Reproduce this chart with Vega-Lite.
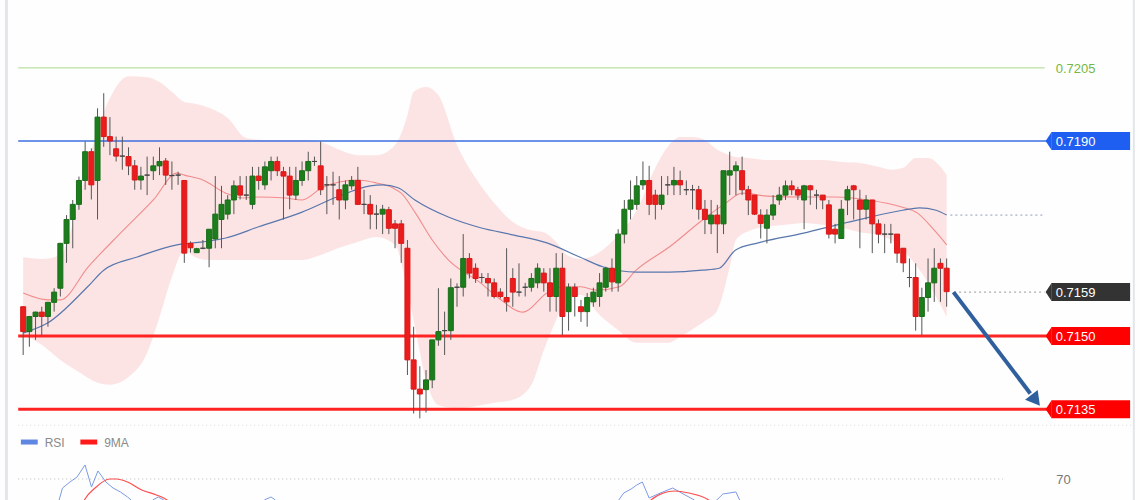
{
"$schema":"https://vega.github.io/schema/vega-lite/v6.json",
"width":1140,"height":500,"autosize":"none","padding":0,
"background":"#fefefe",
"config":{"view":{"stroke":null},"text":{"font":"Liberation Sans"}},
"datasets":{
"candles":[
{"i":0,"o":0.7156,"h":0.71561,"l":0.71461,"c":0.71509},{"i":1,"o":0.71509,"h":0.71541,"l":0.71478,"c":0.7154},{"i":2,"o":0.7154,"h":0.7155,"l":0.71492,"c":0.71549},{"i":3,"o":0.71549,"h":0.7156,"l":0.71502,"c":0.7154},{"i":4,"o":0.7154,"h":0.7157,"l":0.71519,"c":0.71569},
{"i":5,"o":0.71569,"h":0.71598,"l":0.7155,"c":0.7159},{"i":6,"o":0.71598,"h":0.71691,"l":0.71581,"c":0.7169},{"i":7,"o":0.7169,"h":0.71748,"l":0.7165,"c":0.71739},{"i":8,"o":0.71739,"h":0.71779,"l":0.7168,"c":0.7177},{"i":9,"o":0.7177,"h":0.71827,"l":0.71759,"c":0.71819},
{"i":10,"o":0.71819,"h":0.71899,"l":0.718,"c":0.71878},{"i":11,"o":0.71878,"h":0.71885,"l":0.7178,"c":0.7181},{"i":12,"o":0.71819,"h":0.71967,"l":0.71739,"c":0.71949},{"i":13,"o":0.71949,"h":0.71998,"l":0.71888,"c":0.71909},{"i":14,"o":0.71909,"h":0.71949,"l":0.71871,"c":0.719},
{"i":15,"o":0.71884,"h":0.71909,"l":0.71858,"c":0.71869},{"i":16,"o":0.71869,"h":0.71909,"l":0.71841,"c":0.71869},{"i":17,"o":0.71868,"h":0.71887,"l":0.7183,"c":0.71849},{"i":18,"o":0.71849,"h":0.71861,"l":0.718,"c":0.7182},{"i":19,"o":0.7182,"h":0.71847,"l":0.718,"c":0.71828},
{"i":20,"o":0.7183,"h":0.71868,"l":0.71789,"c":0.7183},{"i":21,"o":0.71839,"h":0.71868,"l":0.7182,"c":0.71849},{"i":22,"o":0.71849,"h":0.71887,"l":0.7183,"c":0.71858},{"i":23,"o":0.71859,"h":0.71865,"l":0.7181,"c":0.7183},{"i":24,"o":0.71829,"h":0.71858,"l":0.718,"c":0.71829},
{"i":25,"o":0.7183,"h":0.71837,"l":0.7181,"c":0.7183},{"i":26,"o":0.71819,"h":0.71819,"l":0.7165,"c":0.7167},{"i":27,"o":0.7169,"h":0.71694,"l":0.71671,"c":0.71681},{"i":28,"o":0.71671,"h":0.71681,"l":0.7167,"c":0.71679},{"i":29,"o":0.7168,"h":0.71697,"l":0.71678,"c":0.7168},
{"i":30,"o":0.7168,"h":0.71719,"l":0.71641,"c":0.71719},{"i":31,"o":0.71699,"h":0.71828,"l":0.7168,"c":0.7175},{"i":32,"o":0.71739,"h":0.71808,"l":0.7168,"c":0.7177},{"i":33,"o":0.7175,"h":0.71789,"l":0.71739,"c":0.71779},{"i":34,"o":0.71779,"h":0.71819,"l":0.7175,"c":0.71808},
{"i":35,"o":0.71808,"h":0.71828,"l":0.7178,"c":0.71789},{"i":36,"o":0.71789,"h":0.71828,"l":0.71779,"c":0.71789},{"i":37,"o":0.7177,"h":0.71847,"l":0.7176,"c":0.71828},{"i":38,"o":0.71828,"h":0.71847,"l":0.718,"c":0.71819},{"i":39,"o":0.7181,"h":0.71858,"l":0.718,"c":0.71847},
{"i":40,"o":0.71839,"h":0.71868,"l":0.71819,"c":0.71858},{"i":41,"o":0.71858,"h":0.71868,"l":0.71828,"c":0.71839},{"i":42,"o":0.71837,"h":0.71847,"l":0.71739,"c":0.71828},{"i":43,"o":0.71828,"h":0.71847,"l":0.7176,"c":0.71789},{"i":44,"o":0.71789,"h":0.71847,"l":0.71779,"c":0.71819},
{"i":45,"o":0.71819,"h":0.71858,"l":0.71808,"c":0.71839},{"i":46,"o":0.71839,"h":0.71878,"l":0.71819,"c":0.71858},{"i":47,"o":0.71858,"h":0.71868,"l":0.71849,"c":0.71858},{"i":48,"o":0.71849,"h":0.71899,"l":0.71789,"c":0.718},{"i":49,"o":0.7181,"h":0.71828,"l":0.7175,"c":0.7181},
{"i":50,"o":0.7181,"h":0.71837,"l":0.71769,"c":0.7181},{"i":51,"o":0.718,"h":0.71828,"l":0.71739,"c":0.71779},{"i":52,"o":0.71779,"h":0.71819,"l":0.7176,"c":0.7181},{"i":53,"o":0.71808,"h":0.71828,"l":0.718,"c":0.71819},{"i":54,"o":0.71819,"h":0.71847,"l":0.71769,"c":0.7177},
{"i":55,"o":0.7177,"h":0.718,"l":0.7175,"c":0.7177},{"i":56,"o":0.7177,"h":0.71789,"l":0.71719,"c":0.7175},{"i":57,"o":0.7175,"h":0.71769,"l":0.71719,"c":0.7175},{"i":58,"o":0.7175,"h":0.71769,"l":0.71709,"c":0.7176},{"i":59,"o":0.71759,"h":0.71765,"l":0.71709,"c":0.71721},
{"i":60,"o":0.7173,"h":0.71738,"l":0.7168,"c":0.71721},{"i":61,"o":0.7173,"h":0.71738,"l":0.7165,"c":0.7169},{"i":62,"o":0.7168,"h":0.71697,"l":0.7142,"c":0.71451},{"i":63,"o":0.71451,"h":0.71519,"l":0.71341,"c":0.71391},{"i":64,"o":0.71391,"h":0.71438,"l":0.71331,"c":0.71381},
{"i":65,"o":0.7139,"h":0.7143,"l":0.71343,"c":0.7141},{"i":66,"o":0.7141,"h":0.71492,"l":0.71393,"c":0.71492},{"i":67,"o":0.71492,"h":0.71598,"l":0.7148,"c":0.71509},{"i":68,"o":0.71511,"h":0.7155,"l":0.71461,"c":0.71511},{"i":69,"o":0.71511,"h":0.71618,"l":0.71492,"c":0.71599},
{"i":70,"o":0.716,"h":0.71608,"l":0.7156,"c":0.716},{"i":71,"o":0.716,"h":0.71709,"l":0.71581,"c":0.71659},{"i":72,"o":0.71659,"h":0.7167,"l":0.71618,"c":0.71629},{"i":73,"o":0.71639,"h":0.71649,"l":0.71609,"c":0.71618},{"i":74,"o":0.7162,"h":0.71629,"l":0.71609,"c":0.7162},
{"i":75,"o":0.71618,"h":0.71629,"l":0.71581,"c":0.71609},{"i":76,"o":0.71609,"h":0.71618,"l":0.71577,"c":0.71581},{"i":77,"o":0.7159,"h":0.71598,"l":0.71577,"c":0.71581},{"i":78,"o":0.71579,"h":0.7168,"l":0.7155,"c":0.7157},{"i":79,"o":0.71618,"h":0.71639,"l":0.7156,"c":0.7159},
{"i":80,"o":0.7159,"h":0.71649,"l":0.71581,"c":0.7159},{"i":81,"o":0.716,"h":0.71609,"l":0.71581,"c":0.716},{"i":82,"o":0.716,"h":0.71629,"l":0.71591,"c":0.71618},{"i":83,"o":0.71609,"h":0.71649,"l":0.71598,"c":0.71639},{"i":84,"o":0.71629,"h":0.71639,"l":0.71591,"c":0.71609},
{"i":85,"o":0.71609,"h":0.71639,"l":0.7155,"c":0.71581},{"i":86,"o":0.71581,"h":0.7167,"l":0.7155,"c":0.71639},{"i":87,"o":0.71639,"h":0.7167,"l":0.71502,"c":0.7154},{"i":88,"o":0.7155,"h":0.71608,"l":0.71511,"c":0.716},{"i":89,"o":0.716,"h":0.71608,"l":0.7154,"c":0.71581},
{"i":90,"o":0.7156,"h":0.71574,"l":0.71529,"c":0.7155},{"i":91,"o":0.7155,"h":0.71588,"l":0.71519,"c":0.71579},{"i":92,"o":0.7157,"h":0.71599,"l":0.7156,"c":0.7159},{"i":93,"o":0.71581,"h":0.71629,"l":0.7156,"c":0.71609},{"i":94,"o":0.716,"h":0.71642,"l":0.71591,"c":0.71639},
{"i":95,"o":0.71639,"h":0.71659,"l":0.71591,"c":0.71611},{"i":96,"o":0.71609,"h":0.71719,"l":0.71591,"c":0.71709},{"i":97,"o":0.71709,"h":0.71779,"l":0.7169,"c":0.7176},{"i":98,"o":0.7176,"h":0.71819,"l":0.71739,"c":0.71779},{"i":99,"o":0.7177,"h":0.71828,"l":0.71759,"c":0.71808},
{"i":100,"o":0.7181,"h":0.71858,"l":0.718,"c":0.71819},{"i":101,"o":0.71819,"h":0.71849,"l":0.71748,"c":0.7177},{"i":102,"o":0.71789,"h":0.718,"l":0.71739,"c":0.7177},{"i":103,"o":0.7177,"h":0.71828,"l":0.71759,"c":0.71789},{"i":104,"o":0.7181,"h":0.71828,"l":0.71789,"c":0.7181},
{"i":105,"o":0.7181,"h":0.71847,"l":0.71789,"c":0.71819},{"i":106,"o":0.71819,"h":0.71839,"l":0.71789,"c":0.7181},{"i":107,"o":0.718,"h":0.71819,"l":0.71789,"c":0.718},{"i":108,"o":0.718,"h":0.7181,"l":0.7176,"c":0.718},{"i":109,"o":0.718,"h":0.71808,"l":0.71739,"c":0.7176},
{"i":110,"o":0.7176,"h":0.71779,"l":0.71709,"c":0.71739},{"i":111,"o":0.7173,"h":0.71779,"l":0.71709,"c":0.71748},{"i":112,"o":0.71748,"h":0.71769,"l":0.7167,"c":0.7173},{"i":113,"o":0.7173,"h":0.71839,"l":0.71709,"c":0.71839},{"i":114,"o":0.7183,"h":0.71878,"l":0.71789,"c":0.71839},
{"i":115,"o":0.71839,"h":0.71858,"l":0.71789,"c":0.71849},{"i":116,"o":0.71839,"h":0.71868,"l":0.71789,"c":0.718},{"i":117,"o":0.718,"h":0.71808,"l":0.71748,"c":0.71779},{"i":118,"o":0.71789,"h":0.71789,"l":0.71748,"c":0.7175},{"i":119,"o":0.71748,"h":0.7176,"l":0.717,"c":0.71731},
{"i":120,"o":0.71721,"h":0.7176,"l":0.7169,"c":0.71748},{"i":121,"o":0.71748,"h":0.71789,"l":0.71738,"c":0.71769},{"i":122,"o":0.71779,"h":0.71806,"l":0.71769,"c":0.71789},{"i":123,"o":0.71789,"h":0.71819,"l":0.71779,"c":0.71808},{"i":124,"o":0.71808,"h":0.71819,"l":0.71789,"c":0.718},
{"i":125,"o":0.718,"h":0.71806,"l":0.71779,"c":0.71789},{"i":126,"o":0.71779,"h":0.7181,"l":0.71719,"c":0.71808},{"i":127,"o":0.71808,"h":0.7181,"l":0.71769,"c":0.718},{"i":128,"o":0.71789,"h":0.718,"l":0.7176,"c":0.71789},{"i":129,"o":0.71789,"h":0.71789,"l":0.7176,"c":0.71779},
{"i":130,"o":0.71769,"h":0.71779,"l":0.717,"c":0.71709},{"i":131,"o":0.71719,"h":0.7173,"l":0.7169,"c":0.71709},{"i":132,"o":0.717,"h":0.71779,"l":0.717,"c":0.7176},{"i":133,"o":0.71779,"h":0.71808,"l":0.71748,"c":0.718},{"i":134,"o":0.71808,"h":0.7181,"l":0.71739,"c":0.718},
{"i":135,"o":0.71779,"h":0.718,"l":0.7168,"c":0.7176},{"i":136,"o":0.7176,"h":0.71789,"l":0.71739,"c":0.71779},{"i":137,"o":0.71779,"h":0.71779,"l":0.7167,"c":0.7173},{"i":138,"o":0.7173,"h":0.71739,"l":0.7169,"c":0.71709},{"i":139,"o":0.71709,"h":0.7173,"l":0.7167,"c":0.71709},
{"i":140,"o":0.71709,"h":0.7173,"l":0.7169,"c":0.71709},{"i":141,"o":0.71709,"h":0.71709,"l":0.7165,"c":0.7167},{"i":142,"o":0.7168,"h":0.7168,"l":0.71631,"c":0.7165},{"i":143,"o":0.7162,"h":0.71659,"l":0.716,"c":0.7162},{"i":144,"o":0.7162,"h":0.71649,"l":0.71511,"c":0.7154},
{"i":145,"o":0.7154,"h":0.71599,"l":0.71502,"c":0.71579},{"i":146,"o":0.71579,"h":0.71659,"l":0.7155,"c":0.71609},{"i":147,"o":0.71609,"h":0.7168,"l":0.7157,"c":0.71639},{"i":148,"o":0.71649,"h":0.71659,"l":0.7157,"c":0.71639},{"i":149,"o":0.71639,"h":0.71659,"l":0.7156,"c":0.71591}
],
"band":[
{"i":0,"up":0.71662,"lo":0.71502},{"i":3,"up":0.71658,"lo":0.71482},{"i":6,"up":0.71666,"lo":0.71451},{"i":9,"up":0.71779,"lo":0.71426},{"i":12,"up":0.71923,"lo":0.71404},{"i":14,"up":0.71988,"lo":0.714},{"i":17,"up":0.72033,"lo":0.71416},{"i":20,"up":0.72031,"lo":0.71465},{"i":22,"up":0.72021,"lo":0.71539},{"i":24,"up":0.72001,"lo":0.71621},{"i":26,"up":0.7198,"lo":0.71676},{"i":28,"up":0.71976,"lo":0.7166},{"i":30,"up":0.71968,"lo":0.71656},{"i":33,"up":0.71947,"lo":0.71656},{"i":36,"up":0.71906,"lo":0.71656},{"i":39,"up":0.71902,"lo":0.71656},{"i":42,"up":0.71902,"lo":0.71656},{"i":45,"up":0.71902,"lo":0.71656},{"i":48,"up":0.71898,"lo":0.71666},{"i":51,"up":0.71882,"lo":0.71681},{"i":54,"up":0.71871,"lo":0.71693},{"i":57,"up":0.71871,"lo":0.71703},{"i":60,"up":0.71892,"lo":0.71687},{"i":62,"up":0.71953,"lo":0.71594},{"i":63,"up":0.72001,"lo":0.71533},{"i":65,"up":0.72011,"lo":0.7141},{"i":67,"up":0.71994,"lo":0.71358},{"i":70,"up":0.71892,"lo":0.71352},{"i":73,"up":0.71824,"lo":0.71356},{"i":76,"up":0.71773,"lo":0.71363},{"i":79,"up":0.71734,"lo":0.71369},{"i":82,"up":0.71717,"lo":0.714},{"i":84,"up":0.71713,"lo":0.71471},{"i":86,"up":0.71693,"lo":0.71533},{"i":88,"up":0.71664,"lo":0.7158},{"i":90,"up":0.71658,"lo":0.71584},{"i":93,"up":0.71672,"lo":0.71543},{"i":96,"up":0.71707,"lo":0.71512},{"i":99,"up":0.71758,"lo":0.71486},{"i":102,"up":0.71845,"lo":0.71486},{"i":104,"up":0.71888,"lo":0.71486},{"i":106,"up":0.71908,"lo":0.71498},{"i":108,"up":0.71908,"lo":0.71514},{"i":110,"up":0.71902,"lo":0.71531},{"i":112,"up":0.71882,"lo":0.71553},{"i":114,"up":0.71871,"lo":0.71642},{"i":115,"up":0.71867,"lo":0.71697},{"i":117,"up":0.71865,"lo":0.71715},{"i":120,"up":0.71861,"lo":0.71724},{"i":123,"up":0.71861,"lo":0.71728},{"i":126,"up":0.71861,"lo":0.71732},{"i":129,"up":0.71861,"lo":0.71728},{"i":132,"up":0.71857,"lo":0.71722},{"i":135,"up":0.71855,"lo":0.71713},{"i":138,"up":0.71847,"lo":0.71707},{"i":140,"up":0.71841,"lo":0.71697},{"i":142,"up":0.71845,"lo":0.71676},{"i":144,"up":0.71865,"lo":0.71646},{"i":146,"up":0.71865,"lo":0.71609},{"i":148,"up":0.71847,"lo":0.71564},{"i":149,"up":0.7183,"lo":0.71539}
],
"ma20":[
{"i":0,"v":0.71588},{"i":4,"v":0.71574},{"i":6,"v":0.71574},{"i":10.5,"v":0.71642},{"i":15.7,"v":0.71711},{"i":21,"v":0.71779},{"i":24.8,"v":0.71834},{"i":26,"v":0.7183},{"i":29,"v":0.7182},{"i":32.7,"v":0.71793},{"i":35.5,"v":0.71783},{"i":38,"v":0.71785},{"i":42.3,"v":0.71783},{"i":45,"v":0.71779},{"i":48.2,"v":0.71804},{"i":51,"v":0.71816},{"i":54,"v":0.7182},{"i":57,"v":0.71814},{"i":59.6,"v":0.71804},{"i":61,"v":0.71793},{"i":63.3,"v":0.71752},{"i":66,"v":0.71697},{"i":68.6,"v":0.71656},{"i":73.8,"v":0.71609},{"i":76.5,"v":0.7158},{"i":80.7,"v":0.71549},{"i":84.5,"v":0.71588},{"i":87,"v":0.71601},{"i":90,"v":0.71601},{"i":92.5,"v":0.71594},{"i":96.2,"v":0.71601},{"i":98.9,"v":0.71635},{"i":104.3,"v":0.71683},{"i":109.6,"v":0.71738},{"i":113.4,"v":0.71773},{"i":116,"v":0.71793},{"i":120,"v":0.71787},{"i":125.5,"v":0.71785},{"i":131,"v":0.71785},{"i":136.3,"v":0.71779},{"i":141.6,"v":0.71765},{"i":144.3,"v":0.71752},{"i":147,"v":0.71717},{"i":149,"v":0.71687}
],
"ma50":[
{"i":0,"v":0.71506},{"i":4,"v":0.71527},{"i":10.4,"v":0.71601},{"i":13,"v":0.71635},{"i":18.4,"v":0.71662},{"i":24.8,"v":0.71687},{"i":29,"v":0.71693},{"i":32.7,"v":0.71701},{"i":38,"v":0.71724},{"i":45,"v":0.71754},{"i":50.6,"v":0.71785},{"i":56,"v":0.71808},{"i":58,"v":0.7181},{"i":60.5,"v":0.71804},{"i":63.2,"v":0.71779},{"i":68.6,"v":0.71744},{"i":73.8,"v":0.71722},{"i":79.2,"v":0.71707},{"i":84.5,"v":0.71691},{"i":89.8,"v":0.71662},{"i":93.5,"v":0.71642},{"i":99,"v":0.71631},{"i":104.3,"v":0.71631},{"i":109.6,"v":0.71635},{"i":112.3,"v":0.71639},{"i":114.9,"v":0.71676},{"i":118.6,"v":0.71691},{"i":125.9,"v":0.71711},{"i":131.3,"v":0.71728},{"i":136.6,"v":0.71744},{"i":141.9,"v":0.71758},{"i":144.6,"v":0.71763},{"i":147.3,"v":0.71758},{"i":149,"v":0.71748}
],
"levels":[
{"name":"r2","price":0.7205,"label":"0.7205"},{"name":"r1","price":0.719,"label":"0.7190"},{"name":"last","price":0.7159,"label":"0.7159"},{"name":"s1","price":0.715,"label":"0.7150"},{"name":"s2","price":0.7135,"label":"0.7135"},{"name":"ma50","price":0.71748,"label":""}
],
"rsi":[
{"s":"RSI","i":5.1,"v":44},{"s":"RSI","i":5.8,"v":52.5},{"s":"RSI","i":6.35,"v":62.5},{"s":"RSI","i":7.55,"v":67.5},{"s":"RSI","i":8.7,"v":71.7},{"s":"RSI","i":9.98,"v":81.7},{"s":"RSI","i":11.03,"v":63.3},{"s":"RSI","i":12.07,"v":76.7},{"s":"RSI","i":13.35,"v":67.5},{"s":"RSI","i":14.5,"v":62.5},{"s":"RSI","i":15.7,"v":59.2},{"s":"RSI","i":16.84,"v":55},{"s":"RSI","i":17.43,"v":52.5},{"s":"RSI","i":18.7,"v":40},{"s":"RSI","i":20.9,"v":52.5},{"s":"RSI","i":21.8,"v":55},{"s":"RSI","i":22.7,"v":52.5},{"s":"RSI","i":24.3,"v":36},{"s":"RSI","i":30,"v":30},{"s":"RSI","i":37.8,"v":40},{"s":"RSI","i":38.9,"v":52.5},{"s":"RSI","i":40,"v":55},{"s":"RSI","i":40.7,"v":52.5},{"s":"RSI","i":41.9,"v":36},{"s":"RSI","i":50,"v":30},{"s":"RSI","i":70,"v":20},{"s":"RSI","i":85,"v":30},{"s":"RSI","i":94.6,"v":40},{"s":"RSI","i":96.1,"v":52.5},{"s":"RSI","i":96.9,"v":58.3},{"s":"RSI","i":98.1,"v":61.7},{"s":"RSI","i":99,"v":65},{"s":"RSI","i":99.9,"v":67.5},{"s":"RSI","i":101,"v":54.2},{"s":"RSI","i":102.8,"v":58.3},{"s":"RSI","i":104.8,"v":62.5},{"s":"RSI","i":106.8,"v":56.7},{"s":"RSI","i":108.3,"v":52.5},{"s":"RSI","i":109.8,"v":44},{"s":"RSI","i":111.9,"v":52.5},{"s":"RSI","i":112.9,"v":57.5},{"s":"RSI","i":115,"v":59.2},{"s":"RSI","i":115.6,"v":52.5},{"s":"RSI","i":117,"v":40},{"s":"RSI","i":130,"v":35},{"s":"RSI","i":149,"v":30},
{"s":"9MA","i":9.1,"v":44},{"s":"9MA","i":9.87,"v":52.5},{"s":"9MA","i":11.6,"v":62.5},{"s":"9MA","i":13.95,"v":70},{"s":"9MA","i":15.1,"v":70},{"s":"9MA","i":16.84,"v":67.5},{"s":"9MA","i":19.14,"v":60.8},{"s":"9MA","i":21.5,"v":56.7},{"s":"9MA","i":23.2,"v":52.5},{"s":"9MA","i":25.1,"v":40},{"s":"9MA","i":40,"v":30},{"s":"9MA","i":70,"v":25},{"s":"9MA","i":99.4,"v":40},{"s":"9MA","i":101.3,"v":52.5},{"s":"9MA","i":103.3,"v":58.3},{"s":"9MA","i":105.1,"v":60},{"s":"9MA","i":107.4,"v":58.3},{"s":"9MA","i":110.6,"v":52.5},{"s":"9MA","i":112.2,"v":40},{"s":"9MA","i":130,"v":35},{"s":"9MA","i":149,"v":30}
]
},
"resolve":{"scale":{"y":"independent"}},
"layer":[
{"layer":[
{"data":{"values":[{}]},"mark":{"type":"rule","color":"#e3e5e8","strokeWidth":3},"encoding":{"x":{"datum":-2.7,"type":"quantitative","scale":{"domain":[-2.93,179.39],"nice":false,"zero":false},"axis":null}}},
{"data":{"values":[{}]},"mark":{"type":"rule","color":"#e3e5e8","strokeWidth":2},"encoding":{"x":{"datum":179.2,"type":"quantitative","scale":{"domain":[-2.93,179.39],"nice":false,"zero":false},"axis":null}}},
{"data":{"name":"band"},"mark":{"type":"area","color":"#fcdcdc","opacity":0.78,"interpolate":"monotone"},"encoding":{"x":{"field":"i","type":"quantitative","scale":{"domain":[-2.93,179.39],"nice":false,"zero":false},"axis":null},"y":{"field":"up","type":"quantitative","scale":{"domain":[0.711636,0.721892],"nice":false,"zero":false},"axis":null},"y2":{"field":"lo"}}},
{"data":{"values":[{}]},"mark":{"type":"rule","color":"#d8d8d8","strokeWidth":1,"strokeDash":[1,3]},"encoding":{"x":{"datum":-0.8,"type":"quantitative","scale":{"domain":[-2.93,179.39],"nice":false,"zero":false},"axis":null},"x2":{"datum":179},"y":{"datum":0.71317,"type":"quantitative","scale":{"domain":[0.711636,0.721892],"nice":false,"zero":false},"axis":null}}},
{"data":{"name":"levels"},"transform":[{"filter":"datum.name == 'r2'"}],"mark":{"type":"rule","color":"#a9d98f","strokeWidth":1},"encoding":{"x":{"datum":-0.8,"type":"quantitative","scale":{"domain":[-2.93,179.39],"nice":false,"zero":false},"axis":null},"x2":{"datum":164.8},"y":{"field":"price","type":"quantitative","scale":{"domain":[0.711636,0.721892],"nice":false,"zero":false},"axis":null}}},
{"data":{"name":"levels"},"transform":[{"filter":"datum.name == 'r1'"}],"mark":{"type":"rule","color":"#3d6fe0","strokeWidth":1.5},"encoding":{"x":{"datum":-0.8,"type":"quantitative","scale":{"domain":[-2.93,179.39],"nice":false,"zero":false},"axis":null},"x2":{"datum":165.2},"y":{"field":"price","type":"quantitative","scale":{"domain":[0.711636,0.721892],"nice":false,"zero":false},"axis":null}}},
{"data":{"name":"levels"},"transform":[{"filter":"datum.name == 's1' || datum.name == 's2'"}],"mark":{"type":"rule","color":"#ff2424","strokeWidth":3},"encoding":{"x":{"datum":-0.8,"type":"quantitative","scale":{"domain":[-2.93,179.39],"nice":false,"zero":false},"axis":null},"x2":{"datum":165.2},"y":{"field":"price","type":"quantitative","scale":{"domain":[0.711636,0.721892],"nice":false,"zero":false},"axis":null}}},
{"data":{"name":"levels"},"transform":[{"filter":"datum.name == 'last'"}],"mark":{"type":"rule","color":"#999999","strokeWidth":1,"strokeDash":[2,3]},"encoding":{"x":{"datum":150.2,"type":"quantitative","scale":{"domain":[-2.93,179.39],"nice":false,"zero":false},"axis":null},"x2":{"datum":164.8},"y":{"field":"price","type":"quantitative","scale":{"domain":[0.711636,0.721892],"nice":false,"zero":false},"axis":null}}},
{"data":{"name":"levels"},"transform":[{"filter":"datum.name == 'ma50'"}],"mark":{"type":"rule","color":"#8e9bb8","strokeWidth":1,"strokeDash":[2,3]},"encoding":{"x":{"datum":149.6,"type":"quantitative","scale":{"domain":[-2.93,179.39],"nice":false,"zero":false},"axis":null},"x2":{"datum":164.8},"y":{"field":"price","type":"quantitative","scale":{"domain":[0.711636,0.721892],"nice":false,"zero":false},"axis":null}}},
{"data":{"name":"ma20"},"mark":{"type":"line","color":"#f08c8c","strokeWidth":1.1,"interpolate":"monotone"},"encoding":{"x":{"field":"i","type":"quantitative","scale":{"domain":[-2.93,179.39],"nice":false,"zero":false},"axis":null},"y":{"field":"v","type":"quantitative","scale":{"domain":[0.711636,0.721892],"nice":false,"zero":false},"axis":null}}},
{"data":{"name":"ma50"},"mark":{"type":"line","color":"#5877ad","strokeWidth":1.2,"interpolate":"monotone"},"encoding":{"x":{"field":"i","type":"quantitative","scale":{"domain":[-2.93,179.39],"nice":false,"zero":false},"axis":null},"y":{"field":"v","type":"quantitative","scale":{"domain":[0.711636,0.721892],"nice":false,"zero":false},"axis":null}}},
{"data":{"name":"candles"},"mark":{"type":"rule","color":"#555555","strokeWidth":1},"encoding":{"x":{"field":"i","type":"quantitative","scale":{"domain":[-2.93,179.39],"nice":false,"zero":false},"axis":null},"y":{"field":"l","type":"quantitative","scale":{"domain":[0.711636,0.721892],"nice":false,"zero":false},"axis":null},"y2":{"field":"h"}}},
{"data":{"name":"candles"},"mark":{"type":"bar","size":5,"strokeWidth":1},"encoding":{"x":{"field":"i","type":"quantitative","scale":{"domain":[-2.93,179.39],"nice":false,"zero":false},"axis":null},"y":{"field":"o","type":"quantitative","scale":{"domain":[0.711636,0.721892],"nice":false,"zero":false},"axis":null},"y2":{"field":"c"},"fill":{"condition":[{"test":"datum.c > datum.o","value":"#1b7d1b"},{"test":"datum.c == datum.o","value":"#444444"}],"value":"#ea1c1c"},"stroke":{"condition":[{"test":"datum.c > datum.o","value":"#1b6d1b"},{"test":"datum.c == datum.o","value":"#444444"}],"value":"#d81818"}}},
{"data":{"name":"levels"},"transform":[{"filter":"datum.name != 'r2' && datum.name != 'ma50'"}],"mark":{"type":"rule","strokeWidth":18},"encoding":{"x":{"datum":165.9,"type":"quantitative","scale":{"domain":[-2.93,179.39],"nice":false,"zero":false},"axis":null},"x2":{"datum":178.6},"y":{"field":"price","type":"quantitative","scale":{"domain":[0.711636,0.721892],"nice":false,"zero":false},"axis":null},"stroke":{"field":"name","type":"nominal","scale":{"domain":["r1","last","s1","s2"],"range":["#1e5ff2","#333333","#ff0000","#ff0000"]},"legend":null}}},
{"data":{"name":"levels"},"transform":[{"filter":"datum.name != 'r2' && datum.name != 'ma50'"}],"mark":{"type":"point","filled":true,"opacity":1,"size":324,"shape":"M -0.333 0 L 0.333 -1 L 0.333 1 Z"},"encoding":{"x":{"datum":165.45,"type":"quantitative","scale":{"domain":[-2.93,179.39],"nice":false,"zero":false},"axis":null},"y":{"field":"price","type":"quantitative","scale":{"domain":[0.711636,0.721892],"nice":false,"zero":false},"axis":null},"fill":{"field":"name","type":"nominal","scale":{"domain":["r1","last","s1","s2"],"range":["#1e5ff2","#333333","#ff0000","#ff0000"]},"legend":null}}},
{"data":{"name":"levels"},"transform":[{"filter":"datum.name != 'r2' && datum.name != 'ma50'"}],"mark":{"type":"text","color":"#ffffff","fontSize":13,"align":"left","baseline":"middle","dy":1},"encoding":{"x":{"datum":166.6,"type":"quantitative","scale":{"domain":[-2.93,179.39],"nice":false,"zero":false},"axis":null},"y":{"field":"price","type":"quantitative","scale":{"domain":[0.711636,0.721892],"nice":false,"zero":false},"axis":null},"text":{"field":"label"}}},
{"data":{"name":"levels"},"transform":[{"filter":"datum.name == 'r2'"}],"mark":{"type":"text","color":"#74b843","fontSize":13,"align":"left","baseline":"middle","dy":1},"encoding":{"x":{"datum":166.6,"type":"quantitative","scale":{"domain":[-2.93,179.39],"nice":false,"zero":false},"axis":null},"y":{"field":"price","type":"quantitative","scale":{"domain":[0.711636,0.721892],"nice":false,"zero":false},"axis":null},"text":{"field":"label"}}},
{"data":{"values":[{}]},"mark":{"type":"rule","color":"#2f5f9c","strokeWidth":4},"encoding":{"x":{"datum":150.1,"type":"quantitative","scale":{"domain":[-2.93,179.39],"nice":false,"zero":false},"axis":null},"x2":{"datum":162.5},"y":{"datum":0.7159,"type":"quantitative","scale":{"domain":[0.711636,0.721892],"nice":false,"zero":false},"axis":null},"y2":{"datum":0.71382}}},
{"data":{"values":[{}]},"mark":{"type":"point","shape":"triangle-up","filled":true,"opacity":1,"color":"#2f5f9c","size":256,"angle":142},"encoding":{"x":{"datum":163.36,"type":"quantitative","scale":{"domain":[-2.93,179.39],"nice":false,"zero":false},"axis":null},"y":{"datum":0.71368,"type":"quantitative","scale":{"domain":[0.711636,0.721892],"nice":false,"zero":false},"axis":null}}}
]},
{"layer":[
{"data":{"values":[{}]},"mark":{"type":"rule","color":"#bdbdbd","strokeWidth":1,"strokeDash":[1,3]},"encoding":{"x":{"datum":-0.8,"type":"quantitative","scale":{"domain":[-2.93,179.39],"nice":false,"zero":false},"axis":null},"x2":{"datum":158.1},"y":{"datum":70,"type":"quantitative","scale":{"domain":[52.5,469.17],"nice":false,"zero":false},"axis":null}}},
{"data":{"values":[{}]},"mark":{"type":"text","text":"70","color":"#777777","fontSize":13,"align":"left","baseline":"middle","dy":1},"encoding":{"x":{"datum":166.7,"type":"quantitative","scale":{"domain":[-2.93,179.39],"nice":false,"zero":false},"axis":null},"y":{"datum":70,"type":"quantitative","scale":{"domain":[52.5,469.17],"nice":false,"zero":false},"axis":null}}},
{"data":{"name":"rsi"},"transform":[{"filter":"datum.s == 'RSI'"}],"mark":{"type":"line","color":"#7b9be6","strokeWidth":1,"clip":true},"encoding":{"x":{"field":"i","type":"quantitative","scale":{"domain":[-2.93,179.39],"nice":false,"zero":false},"axis":null},"y":{"field":"v","type":"quantitative","scale":{"domain":[52.5,469.17],"nice":false,"zero":false},"axis":null}}},
{"data":{"name":"rsi"},"transform":[{"filter":"datum.s == '9MA'"}],"mark":{"type":"line","color":"#ff4d4d","strokeWidth":1.2,"clip":true,"interpolate":"monotone"},"encoding":{"x":{"field":"i","type":"quantitative","scale":{"domain":[-2.93,179.39],"nice":false,"zero":false},"axis":null},"y":{"field":"v","type":"quantitative","scale":{"domain":[52.5,469.17],"nice":false,"zero":false},"axis":null}}},
{"data":{"values":[{}]},"mark":{"type":"rule","color":"#5f86e0","strokeWidth":5},"encoding":{"x":{"datum":-0.37,"type":"quantitative","scale":{"domain":[-2.93,179.39],"nice":false,"zero":false},"axis":null},"x2":{"datum":2.35},"y":{"datum":100.8,"type":"quantitative","scale":{"domain":[52.5,469.17],"nice":false,"zero":false},"axis":null}}},
{"data":{"values":[{}]},"mark":{"type":"rule","color":"#ff1a1a","strokeWidth":5},"encoding":{"x":{"datum":9.23,"type":"quantitative","scale":{"domain":[-2.93,179.39],"nice":false,"zero":false},"axis":null},"x2":{"datum":11.95},"y":{"datum":100.8,"type":"quantitative","scale":{"domain":[52.5,469.17],"nice":false,"zero":false},"axis":null}}},
{"data":{"values":[{}]},"mark":{"type":"text","text":"RSI","color":"#8a8a8a","fontSize":12,"align":"left","baseline":"middle","dy":1},"encoding":{"x":{"datum":3.47,"type":"quantitative","scale":{"domain":[-2.93,179.39],"nice":false,"zero":false},"axis":null},"y":{"datum":100.8,"type":"quantitative","scale":{"domain":[52.5,469.17],"nice":false,"zero":false},"axis":null}}},
{"data":{"values":[{}]},"mark":{"type":"text","text":"9MA","color":"#8a8a8a","fontSize":12,"align":"left","baseline":"middle","dy":1},"encoding":{"x":{"datum":13.07,"type":"quantitative","scale":{"domain":[-2.93,179.39],"nice":false,"zero":false},"axis":null},"y":{"datum":100.8,"type":"quantitative","scale":{"domain":[52.5,469.17],"nice":false,"zero":false},"axis":null}}}
]}
]
}
